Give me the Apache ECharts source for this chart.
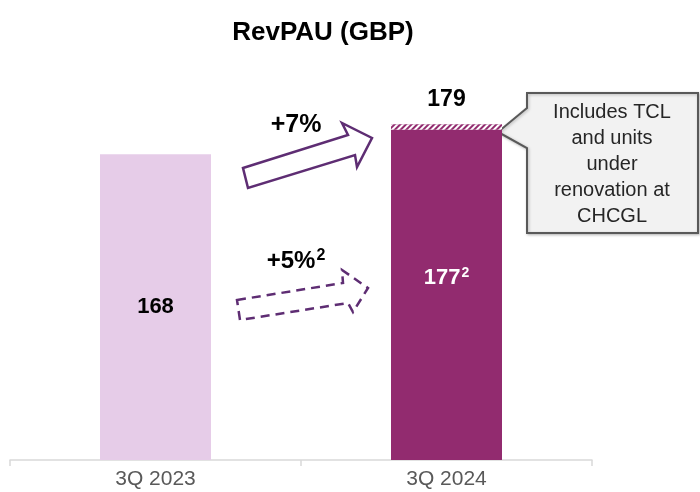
<!DOCTYPE html>
<html>
<head>
<meta charset="utf-8">
<script src="https://cdn.jsdelivr.net/npm/echarts@6/dist/echarts.min.js"></script>
<style>
  html, body { margin: 0; padding: 0; background: #fff; }
  #chart { width: 700px; height: 492px; }
</style>
</head>
<body>
<div id="chart"></div>
<script>
  // data
  var categories = ["3Q 2023", "3Q 2024"];
  var baseValues = [168, 177];        // solid bars
  var extraValues = [null, 2];        // hatched part (TCL + renovation)
  var totalLabels = ["", "179"];
  var baseLabels = ["168", "177{sup|2}"];

  var font = "Liberation Sans, Arial, sans-serif";
  var purple = "#922B6F";
  var arrowColor = "#5E2D73";

  var myChart = echarts.init(document.getElementById("chart"));

  var option = {
    backgroundColor: "#fff",
    textStyle: { fontFamily: font },
    title: {
      text: "RevPAU (GBP)",
      left: 318,
      textAlign: "center",
      top: 15,
      textStyle: { fontSize: 26, fontWeight: "bold", color: "#000", fontFamily: font }
    },
    grid: { left: 10, right: 108, top: 67, bottom: 32 },
    xAxis: {
      type: "category",
      data: categories,
      axisLine: { lineStyle: { color: "#d9d9d9", width: 1.5 } },
      axisTick: { show: true, length: 6, lineStyle: { color: "#d9d9d9", width: 1.5 } },
      axisLabel: { color: "#595959", fontSize: 21, margin: 9, fontFamily: font }
    },
    yAxis: {
      type: "value",
      min: 56,
      max: 200,
      show: false
    },
    series: [
      {
        name: "base",
        type: "bar",
        stack: "total",
        barWidth: 111,
        data: baseValues.map(function (v, i) {
          return {
            value: v,
            itemStyle: { color: i === 0 ? "#E6CCE8" : purple },
            label: {
              color: i === 0 ? "#000" : "#fff",
              offset: i === 0 ? [0, 0] : [0, -17]
            }
          };
        }),
        label: {
          show: true,
          position: "inside",
          fontSize: 22,
          fontWeight: "bold",
          fontFamily: font,
          formatter: function (p) { return baseLabels[p.dataIndex]; },
          rich: {
            sup: { fontSize: 14, fontWeight: "bold", verticalAlign: "top", padding: [0, 0, 10, 1], color: "#fff" }
          }
        }
      },
      {
        name: "extra",
        type: "bar",
        stack: "total",
        barWidth: 111,
        data: extraValues,
        itemStyle: {
          color: purple,
          decal: {
            symbol: "rect",
            color: "#fff",
            dashArrayX: [1, 0],
            dashArrayY: [2, 2],
            rotation: -Math.PI / 4
          }
        },
        label: {
          show: true,
          position: "top",
          distance: 13,
          fontSize: 23,
          fontWeight: "bold",
          color: "#000",
          fontFamily: font,
          formatter: function (p) { return totalLabels[p.dataIndex]; }
        }
      }
    ],
    graphic: [
      // +7% arrow (solid outline)
      {
        type: "polygon",
        shape: { points: [[243, 168], [348, 135], [342, 123], [372, 138], [357, 167], [355, 155], [248, 188]] },
        style: { fill: "#fff", stroke: arrowColor, lineWidth: 2.5, lineJoin: "miter" }
      },
      {
        type: "text",
        x: 296, y: 125,
        style: { text: "+7%", fontSize: 25, fontWeight: "bold", fill: "#000", fontFamily: font, align: "center", verticalAlign: "middle" }
      },
      // +5% arrow (dashed outline)
      {
        type: "polygon",
        shape: { points: [[237, 300], [343, 283], [342, 270], [368, 288], [353, 312], [348, 303], [240, 320]] },
        style: { fill: "none", stroke: arrowColor, lineWidth: 2.5, lineDash: [9, 6] }
      },
      {
        type: "text",
        x: 296, y: 261,
        style: {
          text: "+5%{sup|2}",
          fontSize: 24, fontWeight: "bold", fill: "#000", fontFamily: font, align: "center", verticalAlign: "middle",
          rich: { sup: { fontSize: 16, fontWeight: "bold", fill: "#000", verticalAlign: "top", padding: [0, 0, 10, 1] } }
        }
      },
      // callout box
      {
        type: "polygon",
        shape: { points: [[527, 93], [698, 93], [698, 233], [527, 233], [527, 148], [498, 132], [527, 108]] },
        style: { fill: "#F2F2F2", stroke: "#595959", lineWidth: 2, shadowBlur: 3, shadowColor: "rgba(0,0,0,0.25)", shadowOffsetX: 1, shadowOffsetY: 1 }
      },
      {
        type: "text",
        x: 612, y: 164,
        style: {
          text: "Includes TCL\nand units\nunder\nrenovation at\nCHCGL",
          fontSize: 20, lineHeight: 26, fill: "#262626", fontFamily: font, align: "center", verticalAlign: "middle"
        }
      }
    ]
  };

  myChart.setOption(option);
</script>
</body>
</html>
